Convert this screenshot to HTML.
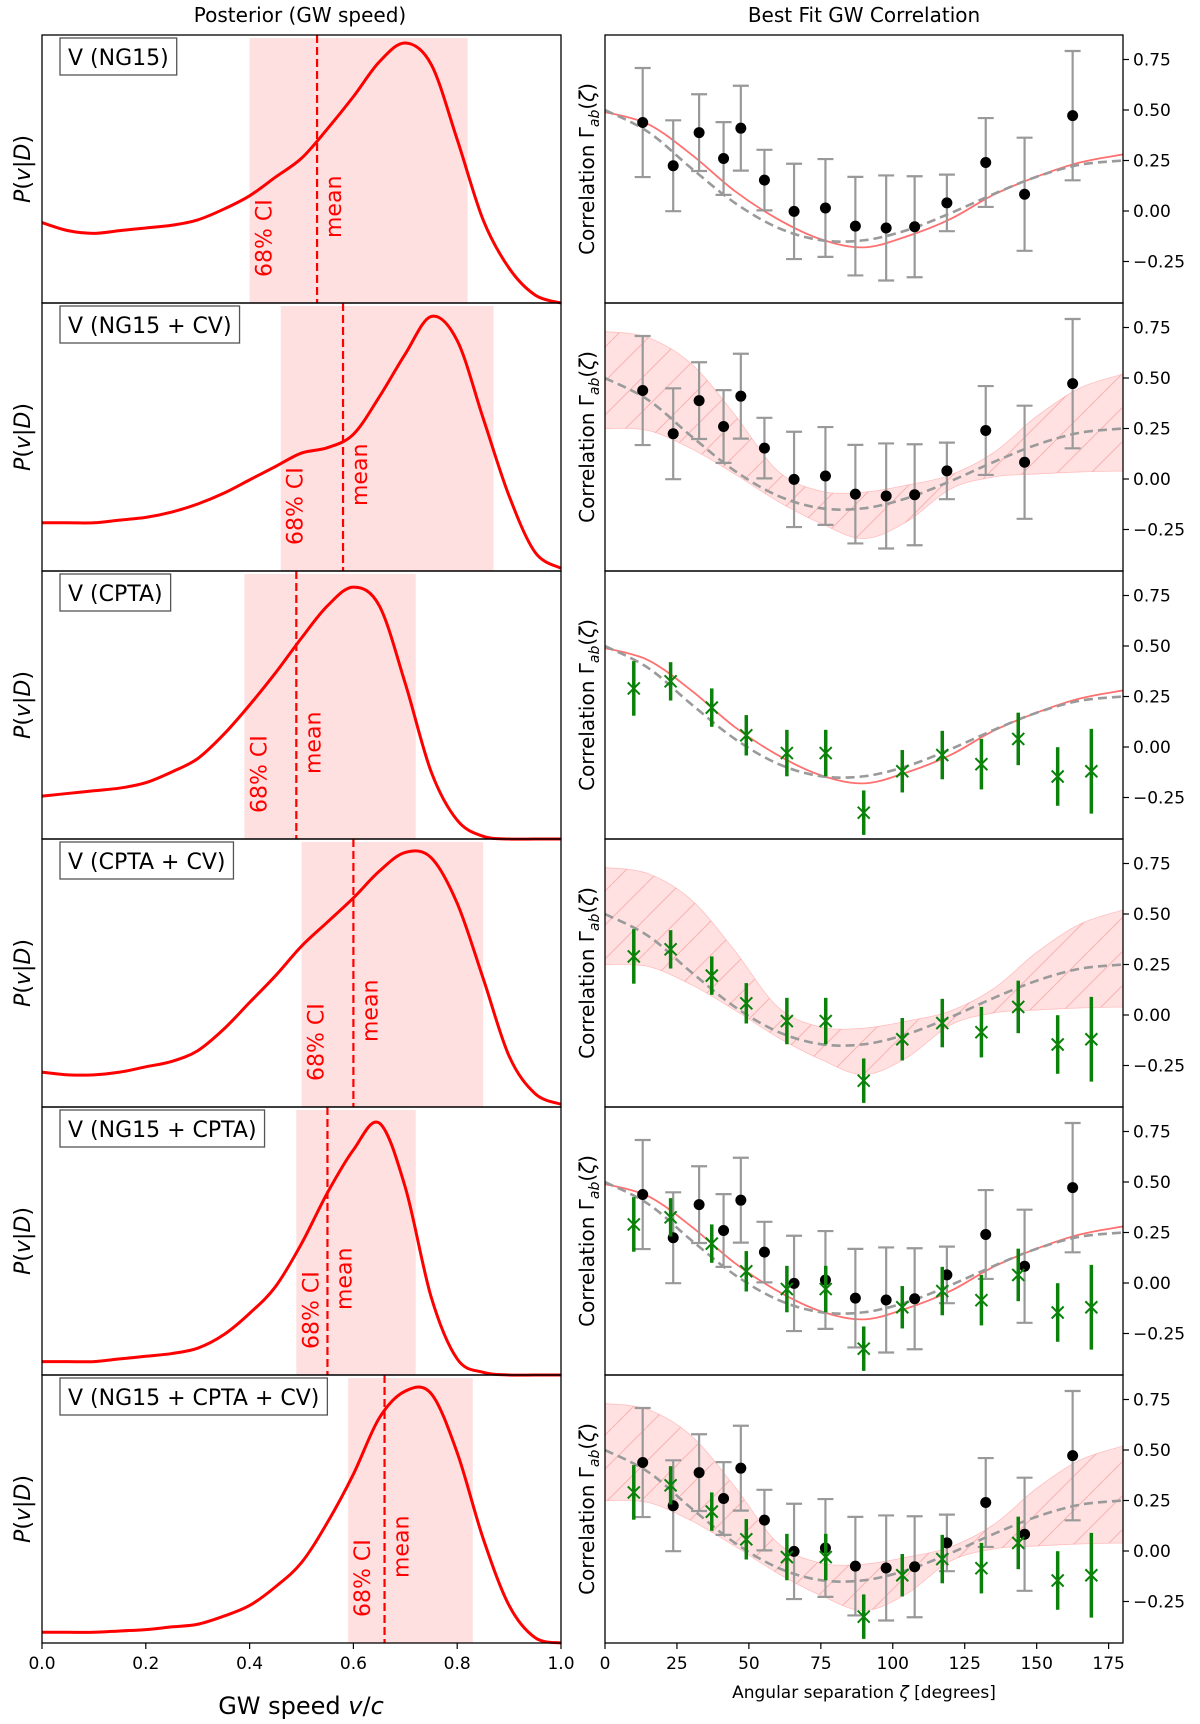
<!DOCTYPE html>
<html><head><meta charset="utf-8">
<style>
html,body{margin:0;padding:0;background:#fff;}
svg{display:block;font-family:"DejaVu Sans","Liberation Sans",sans-serif;}
</style></head>
<body>
<svg id="fig" width="1200" height="1724" viewBox="0 0 1200 1724" xmlns="http://www.w3.org/2000/svg">
<defs>
<pattern id="hatch" patternUnits="userSpaceOnUse" width="34" height="34">
<line x1="0" y1="34" x2="34" y2="0" stroke="#f4a0a0" stroke-width="1" opacity="0.7"/>
</pattern>
</defs>
<text x="300" y="22" font-size="20" text-anchor="middle">Posterior (GW speed)</text>
<text x="864" y="22" font-size="20" text-anchor="middle">Best Fit GW Correlation</text>
<g id="plots"></g>
<text x="301" y="1714" font-size="24" text-anchor="middle">GW speed <tspan font-style="italic">v</tspan>/<tspan font-style="italic">c</tspan></text>
<text x="864" y="1698" font-size="17" text-anchor="middle">Angular separation <tspan font-style="italic">ζ</tspan> [degrees]</text>
</svg>
<script>
// ---- data ----
const panelLabels = ["V (NG15)","V (NG15 + CV)","V (CPTA)","V (CPTA + CV)","V (NG15 + CPTA)","V (NG15 + CPTA + CV)"];
const postV = [0,0.05,0.1,0.15,0.2,0.25,0.3,0.35,0.4,0.45,0.5,0.55,0.6,0.65,0.7,0.75,0.8,0.85,0.9,0.95,1.0];
const post1 = [0.30,0.27,0.26,0.27,0.28,0.29,0.31,0.35,0.40,0.47,0.54,0.65,0.77,0.90,0.97,0.89,0.61,0.31,0.13,0.03,0.0];
const post2 = [0.18,0.18,0.18,0.19,0.20,0.22,0.25,0.29,0.34,0.39,0.44,0.46,0.51,0.65,0.81,0.95,0.86,0.57,0.28,0.07,0.01];
const post3 = [0.16,0.17,0.18,0.19,0.21,0.25,0.30,0.39,0.50,0.62,0.75,0.87,0.94,0.87,0.58,0.25,0.07,0.01,0.0,0.0,0.0];
const post4 = [0.13,0.12,0.12,0.13,0.15,0.17,0.21,0.29,0.39,0.49,0.60,0.69,0.78,0.88,0.95,0.93,0.76,0.48,0.19,0.05,0.01];
const post5 = [0.05,0.05,0.05,0.06,0.07,0.08,0.10,0.15,0.23,0.33,0.49,0.68,0.84,0.94,0.70,0.29,0.06,0.01,0.0,0.0,0.0];
const post6 = [0.04,0.04,0.04,0.045,0.05,0.06,0.07,0.10,0.14,0.21,0.30,0.45,0.63,0.84,0.94,0.93,0.71,0.39,0.14,0.02,0.0];
const ciLow = [0.40,0.46,0.39,0.50,0.49,0.59];
const ciHigh = [0.82,0.87,0.72,0.85,0.72,0.83];
const meanV = [0.53,0.58,0.49,0.60,0.55,0.66];

const ngZeta = [13.1,23.7,32.7,41.2,47.2,55.4,65.7,76.6,87.0,97.7,107.6,118.8,132.3,145.8,162.5];
const ngVal = [0.438,0.224,0.388,0.26,0.41,0.153,-0.002,0.015,-0.075,-0.084,-0.078,0.04,0.24,0.083,0.472];
const ngErr = [0.27,0.225,0.19,0.18,0.21,0.15,0.236,0.242,0.244,0.26,0.25,0.14,0.22,0.28,0.32];
const cpZeta = [10,22.8,37.1,49.1,63.2,76.7,89.9,103.3,117.2,130.8,143.6,157.3,169];
const cpVal = [0.29,0.325,0.195,0.058,-0.03,-0.03,-0.325,-0.12,-0.04,-0.085,0.04,-0.146,-0.12];
const cpErr = [0.135,0.095,0.095,0.1,0.115,0.115,0.11,0.105,0.12,0.125,0.13,0.145,0.21];

const curveZeta = [0,15,30,45,60,75,90,105,120,135,150,165,180];
const hdCurve = [0.5,0.3916,0.2117,0.0414,-0.0824,-0.1445,-0.1449,-0.0945,-0.0112,0.0839,0.1697,0.2290,0.25];
const fitCurve = [0.49,0.43,0.28,0.10,-0.04,-0.14,-0.18,-0.125,-0.04,0.08,0.17,0.24,0.28];
const bandUpper = [0.73,0.70,0.57,0.32,0.04,-0.06,-0.065,-0.03,0.02,0.13,0.31,0.45,0.52];
const bandLower = [0.25,0.24,0.15,0.025,-0.11,-0.22,-0.295,-0.21,-0.05,0.01,0.025,0.035,0.04];

const vTicks = [0,0.2,0.4,0.6,0.8,1.0];
const vTickLabels = ["0.0","0.2","0.4","0.6","0.8","1.0"];
const zTicks = [0,25,50,75,100,125,150,175];
const gTicks = [0.75,0.5,0.25,0,-0.25];
const gTickLabels = ["0.75","0.50","0.25","0.00","\u22120.25"];

// ---- layout ----
const NS="http://www.w3.org/2000/svg";
const root=document.getElementById('plots');
const TOP=35, PH=268;
const LX0=42, LX1=561, RX0=605, RX1=1123;
const posts=[post1,post2,post3,post4,post5,post6];
const showNG=[true,true,false,false,true,true];
const showCP=[false,false,true,true,true,true];
const showBand=[false,true,false,true,false,true];
function mk(tag,attrs,parent){const e=document.createElementNS(NS,tag);for(const k in attrs)e.setAttribute(k,attrs[k]);(parent||root).appendChild(e);return e;}
function xv(v){return LX0+v*(LX1-LX0);}
function xz(z){return RX0+z/180*(RX1-RX0);}
function crPath(pts,start){
  let d=(start||'M')+pts[0][0].toFixed(2)+','+pts[0][1].toFixed(2);
  for(let i=0;i<pts.length-1;i++){
    const p0=pts[Math.max(0,i-1)],p1=pts[i],p2=pts[i+1],p3=pts[Math.min(pts.length-1,i+2)];
    const c1x=p1[0]+(p2[0]-p0[0])/6,c1y=p1[1]+(p2[1]-p0[1])/6;
    const c2x=p2[0]-(p3[0]-p1[0])/6,c2y=p2[1]-(p3[1]-p1[1])/6;
    d+=' C'+c1x.toFixed(2)+','+c1y.toFixed(2)+' '+c2x.toFixed(2)+','+c2y.toFixed(2)+' '+p2[0].toFixed(2)+','+p2[1].toFixed(2);
  }
  return d;
}
for(let p=0;p<6;p++){
  const top=TOP+p*PH, bot=top+PH;
  const yg=g=>top+176-g*202;
  const yp=f=>bot-f*PH;
  // ---------- left panel ----------
  const L=mk('g',{});
  
  
  const sh=mk('rect',{x:xv(ciLow[p]),y:top+3,width:xv(ciHigh[p])-xv(ciLow[p]),height:PH-3,fill:'#ffe0e0'},L);
  
  
  const pts=postV.map((v,i)=>[xv(v),yp(posts[p][i])]);
  const cv=mk('path',{d:crPath(pts),fill:'none',stroke:'#ff0000','stroke-width':3},L);
  
  
  const ml=mk('line',{x1:xv(meanV[p]),x2:xv(meanV[p]),y1:top,y2:bot,stroke:'#ff0000','stroke-width':2.2,'stroke-dasharray':'8,4'},L);
  
  
  const ct=mk('text',{transform:'translate('+(xv(ciLow[p])+22)+','+(bot-26)+') rotate(-90)','font-size':22,fill:'#ff0000'},L);
  ct.textContent='68% CI';
  
  
  const mt=mk('text',{transform:'translate('+(xv(meanV[p])+24)+','+(bot-65)+') rotate(-90)','font-size':22,fill:'#ff0000'},L);
  mt.textContent='mean';
  
  
  const fr=mk('rect',{x:LX0,y:top,width:LX1-LX0,height:PH,fill:'none',stroke:'#000','stroke-width':1.3},L);
  
  
  const lb=mk('rect',{x:60,y:top+3,width:100,height:37,fill:'#fff',stroke:'#555','stroke-width':1.3},L);
  
  
  const lt=mk('text',{x:68,y:top+30,'font-size':22},L);
  lt.textContent=panelLabels[p];
  
  
  lb.setAttribute('width',lt.getComputedTextLength()+16);
  const yl=mk('text',{transform:'translate(30,'+(top+PH/2)+') rotate(-90)','font-size':22,'text-anchor':'middle'},L);
  yl.innerHTML='<tspan font-style="italic">P</tspan>(<tspan font-style="italic">v</tspan>|<tspan font-style="italic">D</tspan>)';
  
  
  // ---------- right panel ----------
  const R=mk('g',{});
  
  
  const cp=mk('clipPath',{id:'clip'+p},R);
  mk('rect',{x:RX0,y:top,width:RX1-RX0,height:PH},cp);
  const inner=mk('g',{'clip-path':'url(#clip'+p+')'},R);
  if(showBand[p]){
    const up=curveZeta.map((z,i)=>[xz(z),yg(bandUpper[i])]);
    const lo=curveZeta.map((z,i)=>[xz(z),yg(bandLower[i])]).reverse();
    const d=crPath(up)+' '+crPath(lo,'L')+' Z';
    const b=mk('path',{d:d,fill:'#ffc8c8','fill-opacity':0.55,stroke:'#ffc0c0','stroke-width':0.8},inner);
    
    
    const h=mk('path',{d:d,fill:'url(#hatch)',stroke:'none'},inner);
    
    
  } else {
    const f=mk('path',{d:crPath(curveZeta.map((z,i)=>[xz(z),yg(fitCurve[i])])),fill:'none',stroke:'#ff7070','stroke-width':1.8},inner);
    
    
  }
  const hd=mk('path',{d:crPath(curveZeta.map((z,i)=>[xz(z),yg(hdCurve[i])])),fill:'none',stroke:'#9a9a9a','stroke-width':2.6,'stroke-dasharray':'9,5'},inner);
  
  
  if(showNG[p]){
    ngZeta.forEach((z,i)=>{
      const g=mk('g',{},inner);
      
      
      const x=xz(z),y1=yg(ngVal[i]+ngErr[i]),y2=yg(ngVal[i]-ngErr[i]);
      mk('line',{x1:x,x2:x,y1:y1,y2:y2,stroke:'#999','stroke-width':2.2},g);
      mk('line',{x1:x-8,x2:x+8,y1:y1,y2:y1,stroke:'#999','stroke-width':2.2},g);
      mk('line',{x1:x-8,x2:x+8,y1:y2,y2:y2,stroke:'#999','stroke-width':2.2},g);
      mk('circle',{cx:x,cy:yg(ngVal[i]),r:5.5,fill:'#000'},g);
    });
  }
  if(showCP[p]){
    cpZeta.forEach((z,i)=>{
      const g=mk('g',{},inner);
      
      
      const x=xz(z),y=yg(cpVal[i]);
      mk('line',{x1:x,x2:x,y1:yg(cpVal[i]+cpErr[i]),y2:yg(cpVal[i]-cpErr[i]),stroke:'#0a820a','stroke-width':3.5},g);
      mk('path',{d:'M'+(x-6)+','+(y-6)+' L'+(x+6)+','+(y+6)+' M'+(x-6)+','+(y+6)+' L'+(x+6)+','+(y-6),stroke:'#0a820a','stroke-width':2},g);
    });
  }
  const rf=mk('rect',{x:RX0,y:top,width:RX1-RX0,height:PH,fill:'none',stroke:'#000','stroke-width':1.3},R);
  
  
  gTicks.forEach((t,i)=>{
    const y=yg(t);
    mk('line',{x1:RX1,x2:RX1+6,y1:y,y2:y,stroke:'#000','stroke-width':1.2},R);
    const tl=mk('text',{x:RX1+10,y:y+6,'font-size':17},R);
    tl.textContent=gTickLabels[i];
    
    
  });
  const ry=mk('text',{transform:'translate(594,'+(top+PH/2)+') rotate(-90)','font-size':20,'text-anchor':'middle'},R);
  ry.innerHTML='Correlation Γ<tspan font-style="italic" font-size="14" dy="5">ab</tspan><tspan dy="-5">(</tspan><tspan font-style="italic">ζ</tspan>)';
  
  
  if(p===5){
    vTicks.forEach((t,i)=>{
      mk('line',{x1:xv(t),x2:xv(t),y1:bot,y2:bot+6,stroke:'#000','stroke-width':1.2});
      const tl=mk('text',{x:xv(t),y:bot+26,'font-size':17,'text-anchor':'middle'});
      tl.textContent=vTickLabels[i];
      
      
    });
    zTicks.forEach(t=>{
      mk('line',{x1:xz(t),x2:xz(t),y1:bot,y2:bot+6,stroke:'#000','stroke-width':1.2});
      const tl=mk('text',{x:xz(t),y:bot+26,'font-size':17,'text-anchor':'middle'});
      tl.textContent=String(t);
      
      
    });
  }
}
</script>
</body></html>
